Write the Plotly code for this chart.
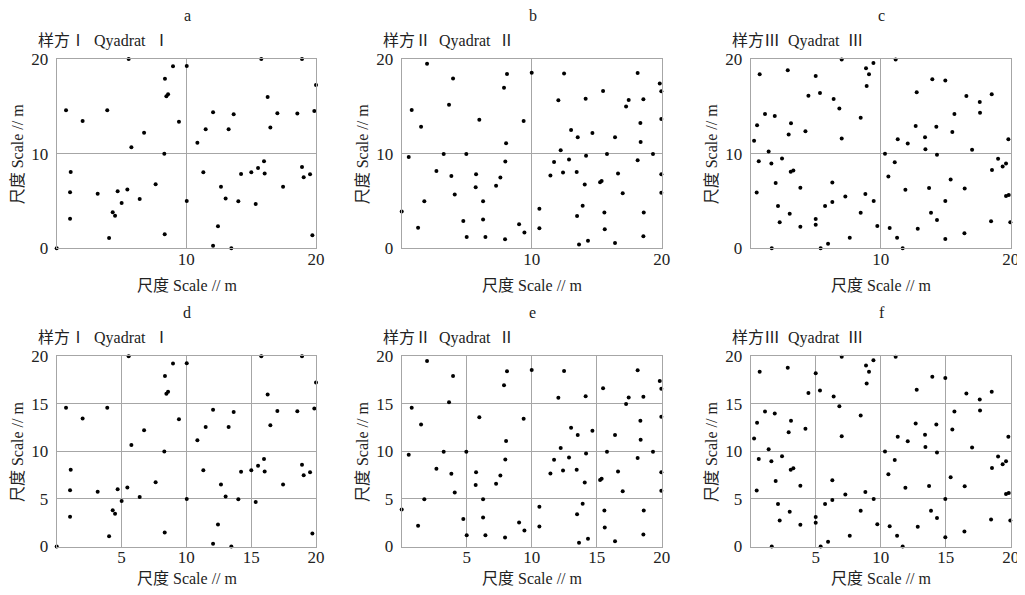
import plotly.graph_objects as go

# ---------------- data ----------------
q1_x = [0, 0.72, 2.0, 1.08, 1.03, 1.03, 3.16, 3.9, 4.04, 4.32, 4.5, 4.7, 5.01, 5.45, 5.55, 5.76,
        6.4, 6.74, 7.63, 8.35, 8.46, 8.59, 8.3, 8.33, 8.97, 9.43, 10.03, 10.03, 10.85, 11.31, 11.49,
        12.06, 12.06, 12.44, 12.67, 13.03, 13.26, 13.47, 13.65, 14.01, 14.22, 15.01, 15.35, 15.53,
        15.78, 15.99, 16.04, 16.27, 16.48, 17.02, 17.46, 18.56, 18.92, 18.92, 19.05, 19.54, 19.72,
        19.87, 20.0]
q1_y = [0, 14.58, 13.45, 8.06, 5.92, 3.13, 5.77, 14.58, 1.09, 3.8, 3.45, 6.02, 4.79, 6.2, 20, 10.67,
        5.21, 12.22, 6.76, 17.92, 16.06, 16.27, 10.0, 1.48, 19.23, 13.38, 19.26, 5.0, 11.16, 8.03, 12.57,
        14.37, 0.28, 2.32, 6.51, 5.25, 12.57, 0, 14.15, 4.96, 7.85, 8.03, 4.68, 8.49,
        20, 9.19, 7.89, 15.99, 12.75, 14.26, 6.51, 14.23, 20, 8.59, 7.5, 7.82, 1.37,
        14.51, 17.25]

q2_x = [0, 0.54, 0.77, 1.26, 1.49, 1.74, 1.95, 2.67, 3.23, 3.64, 3.82, 3.95, 4.08, 4.74, 5.0, 4.97,
        5.72, 5.69, 5.97, 6.26, 6.26, 6.44, 7.26, 7.59, 7.87, 7.95, 7.97, 8.03, 8.1, 9.03, 9.38, 9.44,
        10.0, 10.59, 10.59, 11.44, 11.72, 12.05, 12.23, 12.41, 12.49, 12.87, 13.03, 13.46, 13.54,
        13.49, 13.64, 13.92, 14.08, 14.15, 14.18, 14.33, 14.67, 15.26, 15.38, 15.49, 15.59, 15.62,
        15.79, 16.41, 16.41, 16.64, 17.0, 17.26, 17.46, 18.15, 18.15, 18.36, 18.38, 18.59, 18.62,
        18.59, 19.33, 19.85, 19.97, 19.97, 19.97, 19.97]
q2_y = [3.89, 9.65, 14.6, 2.18, 12.84, 4.98, 19.51, 8.18, 9.96, 15.16, 7.65, 17.93, 5.68, 2.88, 1.19, 9.96,
        7.82, 6.46, 13.58, 4.98, 3.05, 1.19, 6.6, 7.47, 16.95, 0.95, 9.16, 11.09, 18.42, 2.53, 13.44, 1.68,
        18.56, 4.18, 2.11, 7.68, 9.12, 15.65, 10.35, 8.0, 18.46, 9.37, 12.49, 8.07, 11.72,
        3.4, 0.39, 4.49, 6.74, 15.79, 9.79, 0.81, 12.18, 6.98, 7.12, 16.63, 3.79, 2.0,
        9.96, 11.72, 0.56, 7.89, 5.82, 14.98, 15.68, 18.53, 9.3, 13.23, 11.23, 15.75, 3.79,
        1.26, 9.96, 17.4, 16.6, 13.65, 7.82, 5.86]

q3_x = [0.26, 0.46, 0.49, 0.62, 0.69, 1.1, 1.38, 1.59, 1.62, 1.85, 1.92, 2.1, 2.23, 2.41, 2.85, 2.92,
        3.0, 3.08, 3.1, 3.28, 3.82, 3.82, 4.21, 4.44, 5.0, 5.0, 5.0, 5.33, 5.38, 5.72, 5.95, 6.28, 6.28,
        6.38, 6.82, 7.0, 7.0, 7.28, 7.62, 8.46, 8.46, 8.82, 8.87, 8.92, 9.1, 9.44, 9.46, 9.74, 10.33,
        10.59, 10.69, 11.08, 11.15, 11.26, 11.31, 11.69, 11.9, 12.08, 12.69, 12.77, 12.85, 13.41,
        13.44, 13.72, 13.87, 13.97, 14.28, 14.33, 14.33, 14.97, 14.97, 14.97, 15.38, 15.51, 15.67,
        16.44, 16.46, 16.59, 17.03, 17.62, 17.64, 18.49, 18.54, 18.56, 19.03, 19.38, 19.64, 19.64,
        19.85, 19.82, 19.97]
q3_y = [11.35, 5.9, 13.0, 9.21, 18.38, 14.2, 10.23, 8.96, 0, 13.99, 6.89, 4.46, 2.74, 9.49, 18.8, 12.02,
        3.66, 8.08, 13.22, 8.22, 6.4, 2.28, 12.37, 16.13, 18.21, 3.09, 2.5, 16.41, 0, 4.46, 0.49, 6.96, 4.89,
        15.78, 14.76, 19.96, 11.6, 5.48, 1.12, 13.78, 3.76, 5.73, 19.02, 17.15, 18.38, 19.58, 4.99, 2.35, 9.98,
        7.59, 2.14, 9.1, 19.96, 1.12, 11.53, 0, 6.19, 11.07, 12.93, 16.48, 2.07, 11.74,
        10.47, 6.36, 3.76, 17.86, 12.83, 9.88, 2.99, 17.72, 4.99, 0.98, 7.28, 12.3, 14.2,
        1.58, 6.33, 16.1, 10.4, 15.47, 14.31, 2.85, 16.27, 8.26, 9.46, 8.65, 8.96, 5.52,
        5.62, 11.53, 2.74]

panel_letters = ["a", "b", "c", "d", "e", "f"]
quadrat_titles = ["样方Ⅰ  Qyadrat  Ⅰ", "样方Ⅱ  Qyadrat  Ⅱ", "样方Ⅲ  Qyadrat  Ⅲ"]
axis_title = "尺度 Scale // m"
top_ticks_y = [0, 10, 20]
top_ticks_x = [10, 20]
bot_ticks_y = [0, 5, 10, 15, 20]
bot_ticks_x = [5, 10, 15, 20]

# ---------------- layout ----------------
OFF = 8                      # page body margin of the browser
W, H = 1025 - OFF, 595 - 2 * OFF
FONT = "Liberation Serif, Noto Sans CJK SC, serif"
GRID = "#a6a6a6"

col_px = [(56.7, 316.0), (401.7, 661.7), (750.7, 1010.7)]
row_px = [(59.0, 248.3), (356.3, 546.5)]

def px_x(p):
    return (p - OFF) / W

def px_y(p):
    return 1 - (p - OFF) / H

data = [(q1_x, q1_y), (q2_x, q2_y), (q3_x, q3_y)]

fig = go.Figure()
annotations = []

def note(text, x, y, xanchor="center", angle=0, size=16):
    annotations.append(dict(text=text, x=px_x(x), y=px_y(y), xref="paper", yref="paper",
                            showarrow=False, xanchor=xanchor, yanchor="middle", textangle=angle,
                            font=dict(family=FONT, size=size, color="#222")))

idx = 0
for r in range(2):
    for c in range(3):
        idx += 1
        xs, ys = data[c]
        xa = "x" if idx == 1 else f"x{idx}"
        ya = "y" if idx == 1 else f"y{idx}"
        fig.add_trace(go.Scatter(x=xs, y=ys, mode="markers", xaxis=xa, yaxis=ya,
                                 marker=dict(color="black", size=4), cliponaxis=False,
                                 showlegend=False, hoverinfo="x+y"))
        x0, x1 = col_px[c]
        y0, y1 = row_px[r]
        tx = top_ticks_x if r == 0 else bot_ticks_x
        ty = top_ticks_y if r == 0 else bot_ticks_y
        axcommon = dict(range=[0, 20], showline=True, linecolor=GRID, linewidth=1.2, mirror=True,
                        showgrid=True, gridcolor=GRID, gridwidth=1.2, zeroline=False, ticks="",
                        automargin=False,
                        tickfont=dict(family=FONT, size=17, color="#222"), fixedrange=True)
        fig.update_layout(**{
            ("xaxis" if idx == 1 else f"xaxis{idx}"): dict(
                domain=[px_x(x0), px_x(x1)], anchor=ya, tickvals=tx,
                ticklabelstandoff=-5, **axcommon),
            ("yaxis" if idx == 1 else f"yaxis{idx}"): dict(
                domain=[px_y(y1), px_y(y0)], anchor=xa, tickvals=ty,
                ticklabelstandoff=4, **axcommon),
        })
        cx = (x0 + x1) / 2
        cy = (y0 + y1) / 2
        note(panel_letters[idx - 1], cx + 1, y0 - 44)
        note(quadrat_titles[c], x0 - 21, y0 - 18, xanchor="left")
        note(axis_title, cx + 1, y1 + (37 if r == 0 else 32))
        note(axis_title, x0 - 39, cy, angle=-90)

fig.update_layout(width=W, height=H, margin=dict(l=0, r=0, t=0, b=0, autoexpand=False),
                  paper_bgcolor="white", plot_bgcolor="white",
                  annotations=annotations)
fig.write_html("out.html")
